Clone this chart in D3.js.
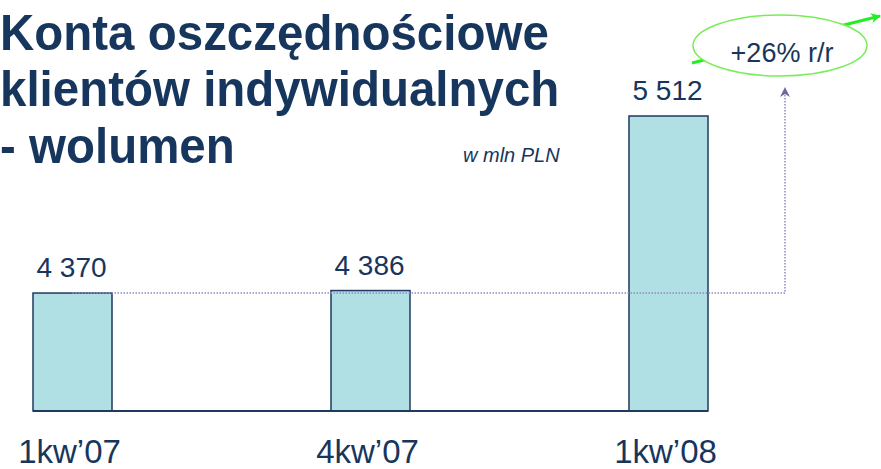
<!DOCTYPE html>
<html>
<head>
<meta charset="utf-8">
<script src="https://cdn.jsdelivr.net/npm/d3@7"></script>
<style>
  body { margin: 0; background: #fff; }
  svg { display: block; font-family: Arial, "Liberation Sans", sans-serif; }
</style>
</head>
<body>
<svg id="chart" width="881" height="469"></svg>
<script>
// data
var categories = ["1kw\u201907", "4kw\u201907", "1kw\u201908"];
var values = [4370, 4386, 5512];
var valueLabels = ["4 370", "4 386", "5 512"];
var titleLines = ["Konta oszcz\u0119dno\u015bciowe", "klient\u00f3w indywidualnych", "- wolumen"];
var unitText = "w mln PLN";
var growthText = "+26% r/r";

var navy = "#17365d";
var barFill = "#b0dfe4";
var barStroke = "#1f3a60";

var svg = d3.select("#chart");
var width = 881, height = 469;

var baseline = 411;
var barWidth = 79;

var x = d3.scalePoint()
    .domain(categories)
    .range([72.5, 668.5]);

// value axis does not start at zero on the slide
var y = d3.scaleLinear()
    .domain([3609, 5512])
    .range([baseline, 116]);

// title
var title = svg.append("g")
    .attr("transform", "translate(0,0) scale(0.95,1)");
title.selectAll("text")
  .data(titleLines)
  .enter().append("text")
    .attr("x", 0)
    .attr("y", function(d, i) { return 50 + i * 56.5; })
    .style("font-size", "50px")
    .style("font-weight", "bold")
    .style("fill", navy)
    .text(function(d) { return d; });

svg.append("text")
    .attr("x", 463)
    .attr("y", 162)
    .style("font-size", "20px")
    .style("font-style", "italic")
    .style("fill", navy)
    .text(unitText);

// bars
svg.selectAll(".bar")
  .data(values)
  .enter().append("rect")
    .attr("class", "bar")
    .attr("x", function(d, i) { return x(categories[i]) - barWidth / 2; })
    .attr("y", function(d) { return y(d); })
    .attr("width", barWidth)
    .attr("height", function(d) { return baseline - y(d); })
    .attr("fill", barFill)
    .attr("stroke", barStroke)
    .attr("stroke-width", 1.5);

// baseline
svg.append("line")
    .attr("x1", x(categories[0]) - barWidth / 2)
    .attr("x2", x(categories[2]) + barWidth / 2)
    .attr("y1", baseline)
    .attr("y2", baseline)
    .attr("stroke", barStroke)
    .attr("stroke-width", 2);

// value labels
svg.selectAll(".val")
  .data(values)
  .enter().append("text")
    .attr("class", "val")
    .attr("x", function(d, i) { return x(categories[i]) - 1; })
    .attr("y", function(d) { return y(d) - 16; })
    .attr("text-anchor", "middle")
    .style("font-size", "28px")
    .style("fill", navy)
    .text(function(d, i) { return valueLabels[i]; });

// category labels
svg.selectAll(".cat")
  .data(categories)
  .enter().append("text")
    .attr("class", "cat")
    .attr("x", function(d) { return x(d) - 3; })
    .attr("y", 463)
    .attr("text-anchor", "middle")
    .style("font-size", "33px")
    .style("fill", navy)
    .text(function(d) { return d; });

// markers
var defs = svg.append("defs");
defs.append("marker")
    .attr("id", "purpleHead")
    .attr("viewBox", "0 0 10 10")
    .attr("refX", 9).attr("refY", 5)
    .attr("markerWidth", 10).attr("markerHeight", 15)
    .attr("markerUnits", "userSpaceOnUse")
    .attr("orient", "auto")
  .append("path")
    .attr("d", "M0,0 L10,5 L0,10 L3,5 Z")
    .attr("fill", "#6c6a9c");
defs.append("marker")
    .attr("id", "greenHead")
    .attr("viewBox", "0 0 10 10")
    .attr("refX", 9).attr("refY", 5)
    .attr("markerWidth", 12).attr("markerHeight", 10)
    .attr("markerUnits", "userSpaceOnUse")
    .attr("orient", "auto")
  .append("path")
    .attr("d", "M0,0 L10,5 L0,10 L3,5 Z")
    .attr("fill", "#22ee22");

// dotted growth line from first bar level, up towards the label
var arrowX = 785;
svg.append("path")
    .attr("d", "M" + x(categories[0]) + "," + y(values[0]) +
               " H" + arrowX + " V88")
    .attr("fill", "none")
    .attr("stroke", "#8f8cc0")
    .attr("stroke-width", 1.5)
    .attr("stroke-dasharray", "1.5,1.5")
    .attr("marker-end", "url(#purpleHead)");

// green arrow + ellipse
svg.append("line")
    .attr("x1", 692).attr("y1", 63)
    .attr("x2", 880).attr("y2", 16)
    .attr("stroke", "#22ee22")
    .attr("stroke-width", 3)
    .attr("marker-end", "url(#greenHead)");

svg.append("ellipse")
    .attr("cx", 780).attr("cy", 45.5)
    .attr("rx", 87).attr("ry", 30.5)
    .attr("fill", "#fff")
    .attr("stroke", "#77ee55")
    .attr("stroke-width", 1.5);

svg.append("text")
    .attr("x", 782)
    .attr("y", 62)
    .attr("text-anchor", "middle")
    .style("font-size", "27px")
    .style("fill", navy)
    .text(growthText);
</script>
</body>
</html>
